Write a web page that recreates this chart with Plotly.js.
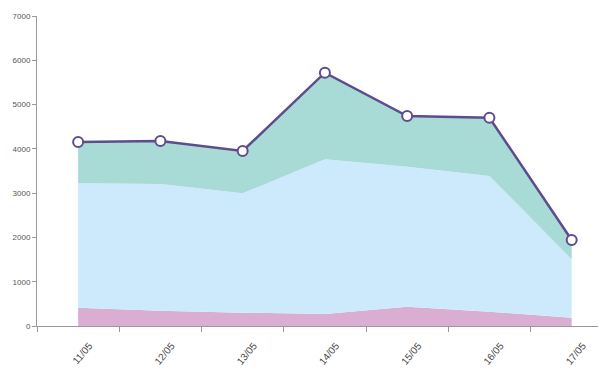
<!DOCTYPE html>
<html>
<head>
<meta charset="utf-8">
<script src="https://cdn.plot.ly/plotly-3.0.1.min.js"></script>
<style>html,body{margin:0;padding:0;background:#fff;}#chart{width:600px;height:387px;}</style>
</head>
<body>
<div id="chart"></div>
<script>
var categories = ["11/05", "12/05", "13/05", "14/05", "15/05", "16/05", "17/05"];
var seriesPink = [414, 346, 301, 271, 437, 323, 188];
var seriesBlue = [2808, 2860, 2695, 3493, 3161, 3064, 1318];
var seriesTeal = [933, 971, 956, 1956, 1144, 1317, 436];
var seriesTotal = [4155, 4177, 3952, 5720, 4742, 4704, 1942];
var yTicks = [0, 1000, 2000, 3000, 4000, 5000, 6000, 7000];

var traces = [
  {x: categories, y: seriesPink, type: "scatter", mode: "none", stackgroup: "s", fillcolor: "#d9aed2", hoverinfo: "skip"},
  {x: categories, y: seriesBlue, type: "scatter", mode: "none", stackgroup: "s", fillcolor: "#cdeafc", hoverinfo: "skip"},
  {x: categories, y: seriesTeal, type: "scatter", mode: "none", stackgroup: "s", fillcolor: "#a8dbd6", hoverinfo: "skip"},
  {x: categories, y: seriesTotal, type: "scatter", mode: "lines+markers",
   line: {color: "#5e4c8c", width: 2.5},
   marker: {size: 10, color: "#ffffff", line: {color: "#5e4c8c", width: 2}}}
];

var layout = {
  width: 600, height: 387,
  margin: {l: 37, r: 2, t: 16, b: 61},
  paper_bgcolor: "#fff", plot_bgcolor: "#fff",
  showlegend: false,
  font: {family: "Liberation Sans, Arial, sans-serif", size: 9, color: "#444"},
  xaxis: {
    type: "category", range: [-0.5, 6.32],
    showgrid: false, zeroline: false,
    showline: true, linecolor: "#999", linewidth: 1,
    ticks: "outside", tickson: "boundaries", ticklen: 5, tickcolor: "#999",
    tickangle: -50, tickfont: {size: 10, color: "#444"},
    ticklabelshift: 11, ticklabelstandoff: 9
  },
  yaxis: {
    range: [0, 7000], tickvals: yTicks,
    showgrid: false, zeroline: false,
    showline: true, linecolor: "#999", linewidth: 1,
    ticks: "outside", ticklen: 4, tickcolor: "#999",
    tickfont: {size: 8, color: "#555"}
  }
};

Plotly.newPlot("chart", traces, layout, {displayModeBar: false, staticPlot: true});
</script>
</body>
</html>
